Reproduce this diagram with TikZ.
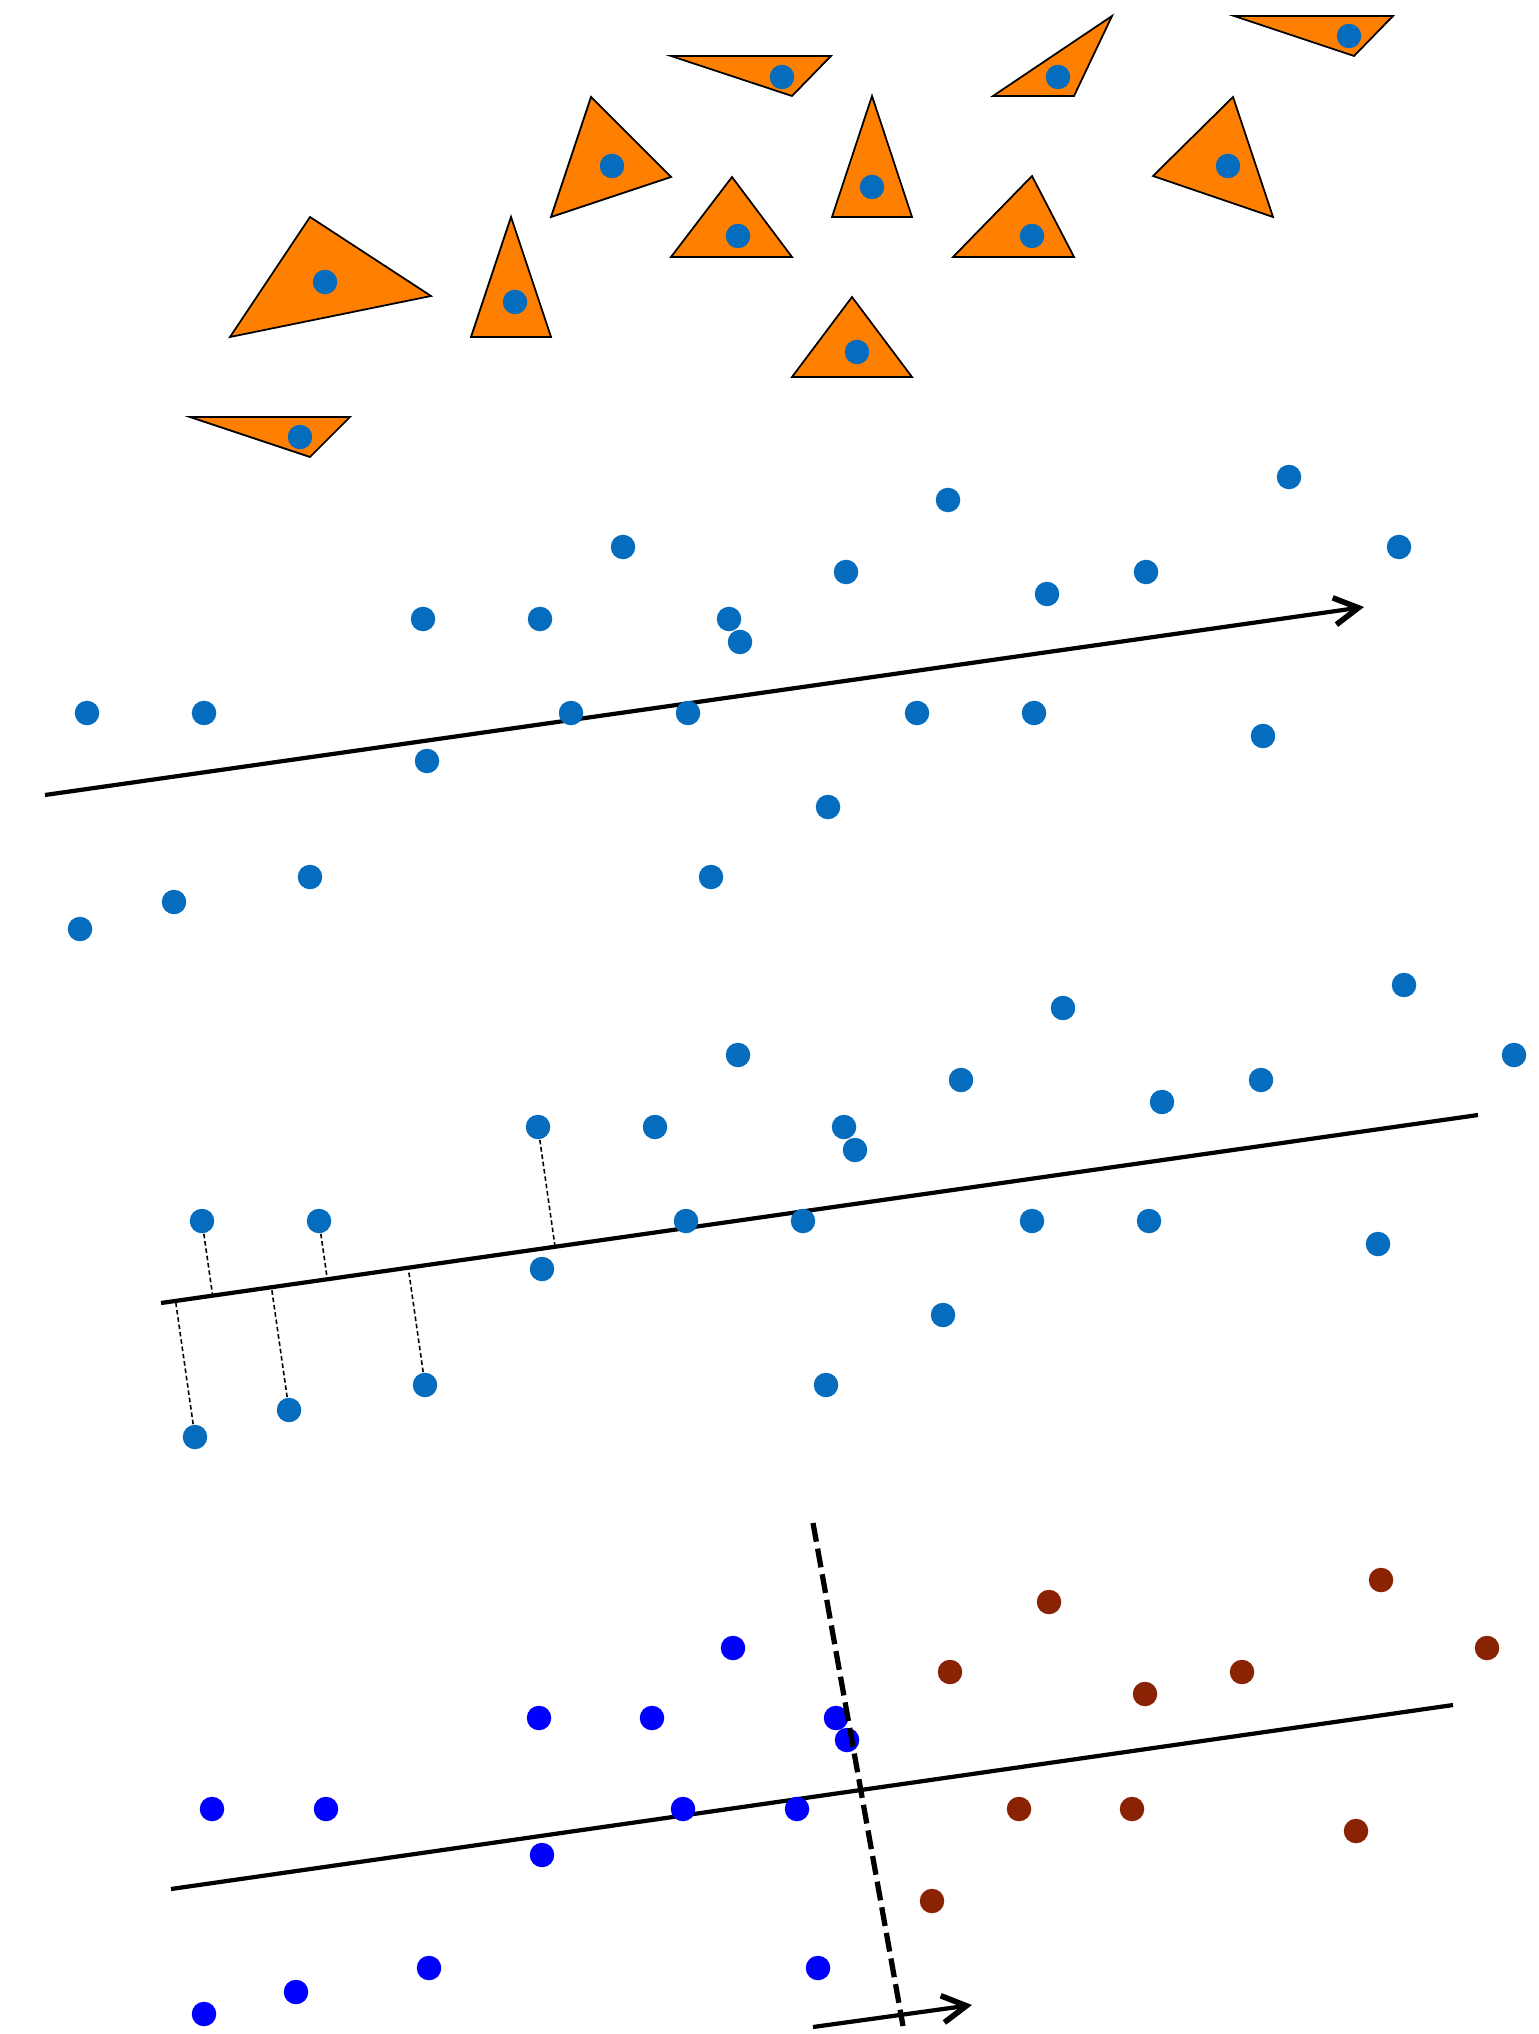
\documentclass[tikz,border=0pt]{standalone}
\usepackage{tikz}
\usetikzlibrary{arrows.meta, calc}
\definecolor{triorange}{RGB}{255,128,0}
\definecolor{dotblue}{RGB}{6,108,190}
\definecolor{clsblue}{RGB}{0,0,255}
\definecolor{clsbrown}{RGB}{138,34,4}
\tikzset{
  tri/.style={draw=black, fill=triorange, line width=0.5pt},
  dot/.style={circle, fill=dotblue, inner sep=0pt, minimum size=0.245cm},
  dirline/.style={line width=1.2pt, color=black},
  arrow/.style={-{Straight Barb[length=2.4mm,width=2.7mm,line width=1.6pt]}, dirline}
}
\begin{document}
\begin{tikzpicture}[x=0.01cm, y=-0.01cm,
  proj/.style={line width=0.45pt, dash pattern=on 1.3pt off 0.8pt},
  split/.style={line width=1.5pt, dash pattern=on 5.4pt off 2pt},
  clsa/.style={dot, fill=clsblue},
  clsb/.style={dot, fill=clsbrown}
]
\useasboundingbox (0,0) rectangle (1538,2034);
%--- triangles with their centre dots ---
\foreach \ax/\ay/\bx/\by/\cx/\cy/\dx/\dy [count=\i] in {
  310/217/431/296/230/337/325/282, 511/217/551/337/471/337/515/302,
  591/97/671/177/551/217/612/166, 190/417/350/417/310/457/300/437,
  732/177/792/257/671/257/738/236, 671/56/831/56/792/96/782/77,
  872/96/912/217/832/217/872/187, 1112/16/1074/96/993/96/1058/77,
  1234/16/1393/16/1354/56/1349/36, 1032/176/1074/257/953/257/1032/236,
  1233/97/1273/217/1153/176/1228/166, 852/297/912/377/792/377/857/352} {
  \draw[tri] (\ax,\ay) -- (\bx,\by) -- (\cx,\cy) -- cycle;
  \node[dot] (t\i) at (\dx,\dy) {};
}

%--- point cloud with direction ---
\def\cloud{623/547, 423/619, 540/619, 729/619, 740/642, 87/713, 204/713,
  571/713, 688/713, 427/761, 310/877, 174/902, 80/929, 711/877, 1289/477,
  948/500, 846/572, 1146/572, 1399/547, 1047/594, 917/713, 1034/713,
  1263/736, 828/807}
\coordinate (u1) at (45,795);
\coordinate (u2) at (1364,607);
\draw[arrow] (u1) -- (u2);
\foreach \x/\y [count=\i] in \cloud { \node[dot] (p\i) at (\x,\y) {}; }

%--- same cloud, projected onto the line ---
\begin{scope}[shift={(115,508)}]
\coordinate (v1) at (46,795);
\coordinate (v2) at (1363,607);
\draw[dirline] (v1) -- (v2);
\foreach \x/\y [count=\i] in \cloud { \node[dot] (q\i) at (\x,\y) {}; }
\end{scope}
\foreach \i in {13,12,11,6,7,2} { \draw[proj] (q\i) -- ($(v1)!(q\i)!(v2)$); }

%--- two classes and the split ---
\coordinate (w1) at (171,1889);
\coordinate (w2) at (1453,1705);
\draw[dirline] (w1) -- (w2);
\foreach \x/\y [count=\i] in {733/1648, 539/1718, 652/1718, 212/1809, 326/1809,
  683/1809, 542/1855, 429/1968, 296/1992, 204/2014, 836/1718, 847/1740,
  797/1809, 818/1968} { \node[clsa] (a\i) at (\x,\y) {}; }
\foreach \x/\y [count=\i] in {1049/1602, 1381/1580, 950/1672, 1242/1672,
  1487/1648, 1145/1694, 1019/1809, 1132/1809, 1356/1831, 932/1901}
  { \node[clsb] (b\i) at (\x,\y) {}; }
\coordinate (s1) at (813,1523);
\coordinate (s2) at (903,2026);
\draw[split] (s1) -- (s2);
\coordinate (n1) at (813,2027);
\coordinate (n2) at (972,2005);
\draw[arrow] (n1) -- (n2);
\end{tikzpicture}
\end{document}
